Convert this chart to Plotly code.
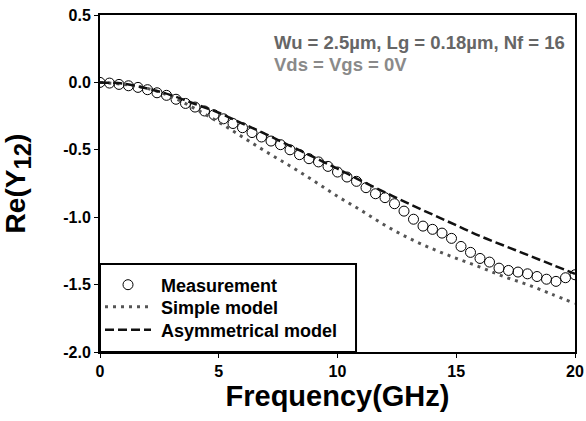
import plotly.graph_objects as go

# Measurement (0 to 20 GHz, 0.4 GHz step)
meas_freq = [round(i * 0.4, 1) for i in range(51)]
meas_re = [0.0, -0.005, -0.015, -0.025, -0.037, -0.054, -0.077, -0.096, -0.125, -0.156,
           -0.183, -0.212, -0.240, -0.270, -0.305, -0.336, -0.372, -0.405, -0.435, -0.462,
           -0.500, -0.536, -0.566, -0.590, -0.623, -0.665, -0.702, -0.734, -0.781, -0.826,
           -0.855, -0.900, -0.955, -1.015, -1.066, -1.090, -1.118, -1.157, -1.217, -1.261,
           -1.306, -1.333, -1.378, -1.395, -1.407, -1.420, -1.440, -1.460, -1.476, -1.449,
           -1.427]

model_freq = list(range(21))
simple_re = [0.0, -0.015, -0.045, -0.105, -0.195, -0.295, -0.405, -0.515, -0.62, -0.73,
             -0.845, -0.95, -1.06, -1.155, -1.235, -1.305, -1.37, -1.44, -1.50, -1.57, -1.64]
asym_re = [0.0, -0.01, -0.045, -0.095, -0.16, -0.225, -0.305, -0.385, -0.47, -0.555,
           -0.64, -0.73, -0.815, -0.90, -0.98, -1.06, -1.14, -1.21, -1.28, -1.35, -1.42]

x_ticks = [0, 5, 10, 15, 20]
y_ticks = [-2.0, -1.5, -1.0, -0.5, 0.0, 0.5]

FONT = "Liberation Sans, Arial, sans-serif"
NB = "\u00a0"

fig = go.Figure()
fig.add_trace(go.Scatter(x=meas_freq, y=meas_re, mode="markers", name=NB + "<b>Measurement</b>",
                         legend="legend",
                         marker=dict(symbol="circle-open", size=10, color="black",
                                     line=dict(width=1, color="black"))))
fig.add_trace(go.Scatter(x=model_freq, y=simple_re, mode="lines", name=NB + "<b>Simple model</b>",
                         legend="legend2",
                         line=dict(color="#555555", width=3, dash="3px,5px", shape="spline")))
fig.add_trace(go.Scatter(x=model_freq, y=asym_re, mode="lines", name=NB + "<b>Asymmetrical model</b>",
                         legend="legend3",
                         line=dict(color="#111111", width=2.5, dash="9px,4px", shape="spline")))

# legend frame
fig.add_shape(type="rect", xref="x", yref="y", x0=0, x1=10.78, y0=-2.0, y1=-1.348,
              line=dict(color="black", width=2), fillcolor="white", layer="below")

fig.add_annotation(xref="paper", yref="paper", x=(272 - 100) / 475, y=(352 - 42) / 337,
                   xanchor="left", yanchor="middle", showarrow=False,
                   text="<b>Wu = 2.5µm, Lg = 0.18µm, Nf = 16</b>",
                   font=dict(family=FONT, size=18.5, color="#666666"))
fig.add_annotation(xref="paper", yref="paper", x=(272 - 100) / 475, y=(352 - 64) / 337,
                   xanchor="left", yanchor="middle", showarrow=False,
                   text="<b>Vds = Vgs = 0V</b>",
                   font=dict(family=FONT, size=18.5, color="#8a8a8a"))


def leg(ypx):
    return dict(x=0.0, y=(352 - ypx) / 337, xanchor="left", yanchor="middle",
                bgcolor="rgba(0,0,0,0)", borderwidth=0, itemwidth=46,
                font=dict(family=FONT, size=18, color="black"))


fig.update_layout(
    width=586, height=421,
    margin=dict(l=100, r=11, t=15, b=69),
    plot_bgcolor="white", paper_bgcolor="white",
    font=dict(family=FONT, color="black"),
    showlegend=True,
    legend=leg(285), legend2=leg(307), legend3=leg(330),
    xaxis=dict(range=[0, 20], tickvals=x_ticks, ticktext=["<b>%d</b>" % v for v in x_ticks],
               showgrid=False, zeroline=False, showline=True, linecolor="black", linewidth=2,
               mirror=True, ticks="outside", ticklen=4, tickwidth=1, tickcolor="black",
               automargin=False,
               tickfont=dict(family=FONT, size=16),
               title=dict(text="<b>Frequency(GHz)</b>", standoff=2,
                          font=dict(family=FONT, size=29))),
    yaxis=dict(range=[-2.0, 0.5], tickvals=y_ticks, ticktext=["<b>%.1f</b>" % v for v in y_ticks],
               showgrid=False, zeroline=False, showline=True, linecolor="black", linewidth=2,
               mirror=True, ticks="outside", ticklen=4, tickwidth=1, tickcolor="black",
               automargin=False,
               tickfont=dict(family=FONT, size=16),
               title=dict(text="<b>Re(Y<sub><span style='font-size:24px'>12</span></sub>)</b>",
                          standoff=34, font=dict(family=FONT, size=28))),
)

fig.write_html("out.html", config={"displayModeBar": False},
               post_script="document.body.style.margin='0px';")
